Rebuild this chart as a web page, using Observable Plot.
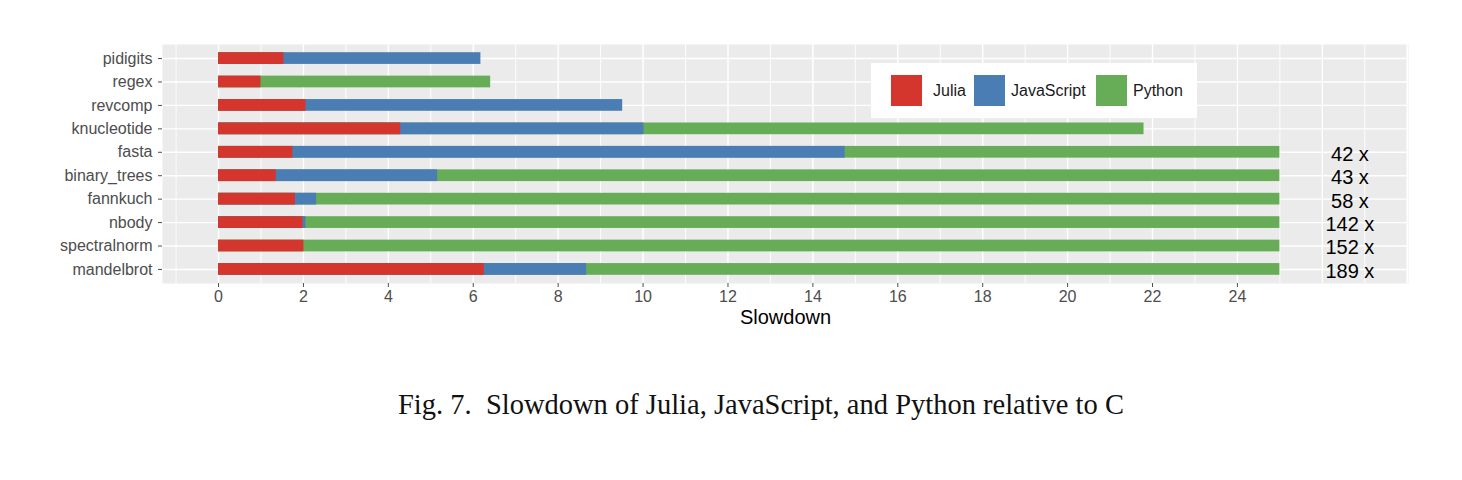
<!DOCTYPE html>
<html>
<head>
<meta charset="utf-8">
<script src="https://cdn.jsdelivr.net/npm/d3@7"></script>
<script src="https://cdn.jsdelivr.net/npm/@observablehq/plot@0.6"></script>
<style>
  html, body { margin: 0; padding: 0; background: #ffffff; }
  #wrap { position: relative; width: 1462px; height: 480px; overflow: hidden; }
  #legend { position: absolute; left: 871px; top: 63px; width: 326px; height: 55px; background: #ffffff;
            font-family: "Liberation Sans", Arial, Helvetica, sans-serif; font-size: 16px; color: #1a1a1a; }
  .key { position: absolute; top: 12px; width: 31px; height: 31px; box-sizing: border-box; }
  .lab { position: absolute; top: 18px; line-height: 19px; white-space: nowrap; }
  #caption { position: absolute; left: 398px; top: 391px; white-space: pre; line-height: 1;
             font-family: "Liberation Serif", "DejaVu Serif", serif; color: #111; }
</style>
</head>
<body>
<div id="wrap"></div>
<script>
// ---- data ----
const categories = ["pidigits", "regex", "revcomp", "knucleotide", "fasta", "binary_trees", "fannkuch", "nbody", "spectralnorm", "mandelbrot"];
const julia      = [1.54, 1.00, 2.06, 4.29, 1.75, 1.36, 1.81, 1.99, 2.01, 6.26];
const javascript = [6.18, null, 9.52, 10.02, 14.76, 5.16, 2.31, 2.06, null, 8.67];
const python     = [null, 6.41, null, 21.8, 42, 43, 58, 142, 152, 189];
const seriesNames = ["Julia", "JavaScript", "Python"];
const seriesColors = ["#d4352c", "#4a7db4", "#67ac57"];
const xTicks = [0, 2, 4, 6, 8, 10, 12, 14, 16, 18, 20, 22, 24];
const gridMajor = [0, 2, 4, 6, 8, 10, 12, 14, 16, 18, 20, 22, 24, 26, 28];
const gridMinor = [-1, 1, 3, 5, 7, 9, 11, 13, 15, 17, 19, 21, 23, 25, 27];
const clipAt = 25;
const labelX = 26.65;
const xTitle = "Slowdown";
const captionText = "Fig. 7.  Slowdown of Julia, JavaScript, and Python relative to C";

// ---- table built from the arrays (drawn bottom to top: Python, JavaScript, Julia) ----
const rows = [];
[[python, "Python"], [javascript, "JavaScript"], [julia, "Julia"]].forEach(([vals, name]) => {
  vals.forEach((v, i) => { if (v != null) rows.push({cat: categories[i], series: name, value: v}); });
});
const labels = python.map((v, i) => ({cat: categories[i], value: v}))
  .filter(d => d.value != null && d.value > clipAt)
  .map(d => ({cat: d.cat, text: `${d.value} x`}));

const font = '"Liberation Sans", Arial, Helvetica, sans-serif';

const chart = Plot.plot({
  width: 1462,
  height: 350,
  marginLeft: 162,
  marginRight: 54,
  marginTop: 44,
  marginBottom: 67,
  style: {fontFamily: font, background: "transparent", overflow: "visible"},
  x: {domain: [-1.32, 28.03]},
  y: {type: "band", domain: categories, paddingInner: 0.5, paddingOuter: 0.35, round: false},
  color: {domain: seriesNames, range: seriesColors},
  marks: [
    Plot.frame({fill: "#ebebeb", stroke: null}),
    Plot.ruleX(gridMinor, {stroke: "#ffffff", strokeWidth: 0.9}),
    Plot.ruleX(gridMajor, {stroke: "#ffffff", strokeWidth: 1.4}),
    Plot.ruleY(categories, {y: d => d, stroke: "#ffffff", strokeWidth: 1.4}),
    Plot.barX(rows, {y: "cat", x1: 0, x2: d => Math.min(d.value, clipAt), fill: "series"}),
    Plot.text(labels, {x: labelX, y: "cat", text: "text", fontSize: 20, fill: "#000000", dy: 2}),
    Plot.axisX({ticks: xTicks, tickSize: 4, tickPadding: 3, fontSize: 16, color: "#4d4d4d", label: null, tickFormat: d => d}),
    Plot.axisY({tickSize: 4, tickPadding: 6, fontSize: 16, color: "#4d4d4d", label: null}),
    Plot.text([xTitle], {frameAnchor: "bottom", dy: 40, fontSize: 20, fill: "#000000", text: d => d})
  ]
});

const wrap = document.getElementById("wrap");
wrap.appendChild(chart);

// legend
const legend = document.createElement("div");
legend.id = "legend";
const keyLeft = [20, 103, 225];
const labLeft = [62, 140, 262];
seriesNames.forEach((name, i) => {
  const k = document.createElement("div");
  k.className = "key";
  k.style.left = keyLeft[i] + "px";
  k.style.background = seriesColors[i];
  legend.appendChild(k);
  const t = document.createElement("div");
  t.className = "lab";
  t.style.left = labLeft[i] + "px";
  t.textContent = name;
  legend.appendChild(t);
});
wrap.appendChild(legend);

// caption
const cap = document.createElement("div");
cap.id = "caption";
cap.textContent = captionText;
const ctx = document.createElement("canvas").getContext("2d");
ctx.font = '100px "Liberation Serif", "DejaVu Serif", serif';
const w100 = ctx.measureText(captionText).width;
cap.style.fontSize = (100 * 726 / w100).toFixed(2) + "px";
wrap.appendChild(cap);
</script>
</body>
</html>
